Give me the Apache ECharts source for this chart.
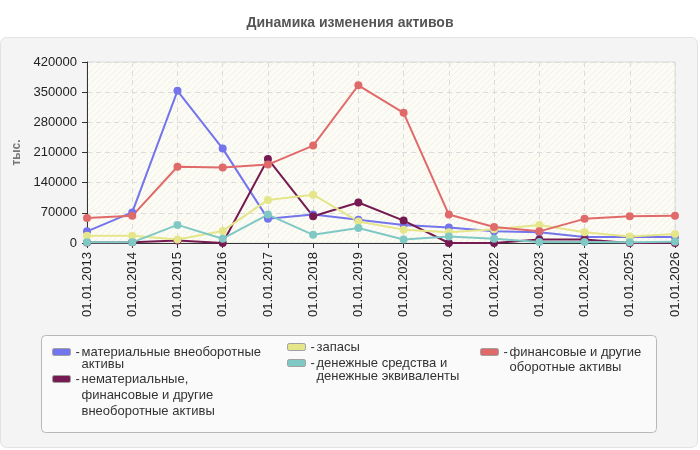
<!DOCTYPE html>
<html>
<head>
<meta charset="utf-8">
<script src="https://cdn.jsdelivr.net/npm/echarts@6/dist/echarts.min.js"></script>
<style>
  html, body { margin: 0; padding: 0; background: #fff; }
  #chart { width: 700px; height: 450px; }
</style>
</head>
<body>
<div id="chart"></div>
<script>
// даты
const dates = [
  "01.01.2013", "01.01.2014", "01.01.2015", "01.01.2016", "01.01.2017",
  "01.01.2018", "01.01.2019", "01.01.2020", "01.01.2021", "01.01.2022",
  "01.01.2023", "01.01.2024", "01.01.2025", "01.01.2026"
];

// значения, тыс.
const tangible = [27000, 71000, 353000, 219000, 56000, 66000, 54000, 42000, 36000, 27000, 25000, 14000, 14000, 14000];
const intangible = [1000, 2000, 6000, 0, 195000, 62000, 94000, 52000, 0, 0, 8000, 8000, 0, 0];
const stocks = [17000, 17000, 8000, 28000, 100000, 112000, 50000, 31000, 25000, 32000, 42000, 25000, 15000, 21000];
const cash = [1500, 1500, 42000, 10000, 66000, 19000, 35000, 8000, 15000, 10000, 2500, 2500, 1500, 3000];
const financial = [58000, 63000, 177000, 175000, 182000, 226000, 366000, 302000, 66000, 37000, 27000, 56000, 62000, 63000];

const seriesNames = [
  "материальные внеоборотные активы",
  "нематериальные, финансовые и другие внеоборотные активы",
  "запасы",
  "денежные средства и денежные эквиваленты",
  "финансовые и другие оборотные активы"
];
// как подписи переносятся в легенде
const legendLines = [
  ["материальные внеоборотные", "активы"],
  ["нематериальные,", "финансовые и другие", "внеоборотные активы"],
  ["запасы"],
  ["денежные средства и", "денежные эквиваленты"],
  ["финансовые и другие", "оборотные активы"]
];
const colors = ["#7474ec", "#761a52", "#e5e58a", "#80c8c4", "#e06a6a"];

const chart = echarts.init(document.getElementById("chart"));

// штриховка фона
function hatch() {
  const c = document.createElement("canvas");
  c.width = 6;
  c.height = 6;
  const ctx = c.getContext("2d");
  ctx.fillStyle = "#fcfcf4";
  ctx.fillRect(0, 0, 6, 6);
  ctx.strokeStyle = "#f0f0ea";
  ctx.lineWidth = 1;
  ctx.beginPath();
  ctx.moveTo(0, 6);
  ctx.lineTo(6, 0);
  ctx.stroke();
  return c;
}

function makeSeries(name, data, color) {
  return {
    name: name,
    type: "line",
    data: data,
    symbol: "circle",
    symbolSize: 8,
    color: color,
    lineStyle: { width: 2 },
    animation: false
  };
}

// одна легенда на серию, иконка по первой строке
function makeLegend(idx, left, iconY, lh) {
  const lines = legendLines[idx];
  const n = lines.length;
  const text = lines.map((s, i) => (i === 0 ? "{d|-}" : "{d| }") + "{t|" + s + "}").join("\n");
  return {
    data: [seriesNames[idx]],
    left: left,
    top: iconY - ((2 * n - 1) * lh) / 2,
    padding: 0,
    icon: "roundRect",
    itemWidth: 18,
    itemHeight: 7,
    itemStyle: { borderColor: "#a0a0a0", borderWidth: 1 },
    selectedMode: false,
    formatter: () => text,
    textStyle: {
      fontFamily: "Liberation Sans, Arial",
      fontSize: 13,
      color: "#333",
      lineHeight: lh,
      padding: [(n - 1) * lh, 0, 0, 0],
      rich: {
        d: { width: 6, fontSize: 13, lineHeight: lh, color: "#333" },
        t: { fontSize: 13, lineHeight: lh, color: "#333" }
      }
    }
  };
}

const option = {
  backgroundColor: "#fff",
  title: {
    text: "Динамика изменения активов",
    left: "center",
    top: 11,
    textStyle: { fontFamily: "Liberation Sans, Arial", fontSize: 14, fontWeight: "bold", color: "#555" }
  },
  graphic: [
    {
      type: "rect",
      shape: { x: 0.5, y: 37.5, width: 697, height: 410, r: 6 },
      style: { fill: "#f4f4f4", stroke: "#e2e2e2", lineWidth: 1 },
      z: -10
    },
    {
      type: "rect",
      shape: { x: 41.5, y: 335.5, width: 615, height: 97, r: 4 },
      style: { fill: "#fafafa", stroke: "#b8b8b8", lineWidth: 1 },
      z: -5
    }
  ],
  grid: {
    left: 87,
    right: 25,
    top: 62,
    bottom: 207,
    show: true,
    backgroundColor: { image: hatch(), repeat: "repeat" },
    borderColor: "#dcdcdc",
    borderWidth: 1
  },
  legend: [
    makeLegend(0, 52, 352, 12),
    makeLegend(1, 52, 379, 16),
    makeLegend(2, 287, 347, 14),
    makeLegend(3, 287, 363, 13),
    makeLegend(4, 480, 352, 15)
  ],
  xAxis: {
    type: "category",
    data: dates,
    boundaryGap: false,
    axisLine: { lineStyle: { color: "#333", width: 1 } },
    axisTick: { show: true, length: 5, lineStyle: { color: "#333" } },
    axisLabel: {
      rotate: 90,
      interval: 0,
      margin: 9,
      fontFamily: "Liberation Sans, Arial",
      fontSize: 13,
      color: "#222"
    },
    splitLine: { show: true, lineStyle: { color: "#dcdcdc", type: [5, 4] } }
  },
  yAxis: {
    type: "value",
    min: 0,
    max: 420000,
    interval: 70000,
    name: "тыс.",
    nameLocation: "middle",
    nameGap: 56,
    nameTextStyle: { fontFamily: "Liberation Sans, Arial", fontSize: 12, fontWeight: "bold", color: "#777" },
    axisLine: { show: true, lineStyle: { color: "#333", width: 1 } },
    axisTick: { show: true, length: 5, lineStyle: { color: "#333" } },
    axisLabel: {
      fontFamily: "Liberation Sans, Arial",
      fontSize: 13,
      color: "#222",
      margin: 10,
      formatter: (v) => String(v)
    },
    splitLine: { show: true, lineStyle: { color: "#dcdcdc", type: [5, 4] } }
  },
  series: [
    makeSeries(seriesNames[0], tangible, colors[0]),
    makeSeries(seriesNames[1], intangible, colors[1]),
    makeSeries(seriesNames[2], stocks, colors[2]),
    makeSeries(seriesNames[3], cash, colors[3]),
    makeSeries(seriesNames[4], financial, colors[4])
  ]
};

chart.setOption(option);
</script>
</body>
</html>
